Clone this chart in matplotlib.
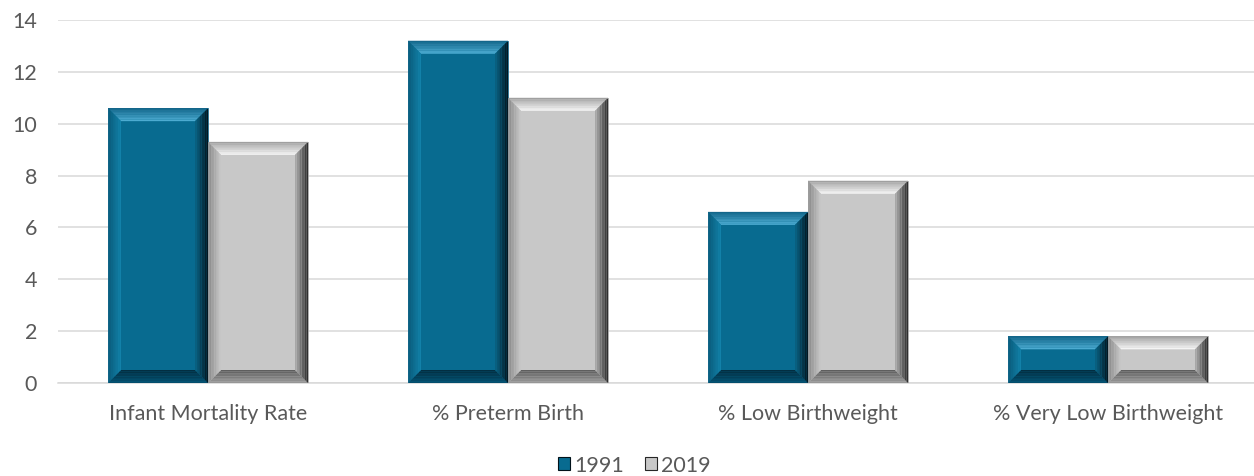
import numpy as np
import matplotlib as mpl
mpl.use('Agg')
import matplotlib.pyplot as plt
from matplotlib.patches import Polygon, Patch
from matplotlib.colors import to_rgb

# data
categories = ['Infant Mortality Rate', '% Preterm Birth', '% Low Birthweight', '% Very Low Birthweight']
series_names = ['1991', '2019']
values_1991 = [10.6, 13.2, 6.6, 1.8]
values_2019 = [9.3, 11.0, 7.8, 1.8]

# bevel palettes: face, (outer, inner) for top, left, right, bottom
styles = {
    '1991': dict(face='#086B90',
                 top=('#14668A', '#50B0D6'), left=('#095877', '#1384AC'),
                 right=('#01121A', '#0A6486'), bottom=('#045070', '#022C3E')),
    '2019': dict(face='#C8C8C8',
                 top=('#A0A0A0', '#FAFAFA'), left=('#858585', '#CACACA'),
                 right=('#262626', '#B0B0B0'), bottom=('#9A9A9A', '#5A5A5A')),
}

plt.rcParams['font.family'] = ['Lato', 'DejaVu Sans']
text_color = '#595959'

fig = plt.figure(figsize=(12.54, 4.76), dpi=100)
ax = fig.add_axes([58 / 1254, 1 - 383 / 476, 1200 / 1254, 363 / 476])

x = np.arange(len(categories))
w = 1 / 3
ax.set_xlim(-0.5, len(categories) - 0.5)
ax.set_ylim(0, 14)

# pixel -> data conversion for the bevel size
px_x = len(categories) / 1200
px_y = 14 / 363
bev = 13


def mix(c1, c2, t):
    a, b = np.array(to_rgb(c1)), np.array(to_rgb(c2))
    return tuple(a + (b - a) * t)


def bevel_bar(x0, h, width, st):
    x1 = x0 + width
    dx = bev * px_x
    dy = min(bev * px_y, h / 2.2)
    ax.add_patch(Polygon([(x0, 0), (x1, 0), (x1, h), (x0, h)], closed=True,
                         facecolor=st['face'], edgecolor='none', zorder=3))
    n = 8
    for k in range(n):
        t0, t1 = k / n, (k + 1) / n
        tc = (k + 0.5) / n
        # top
        ax.add_patch(Polygon([(x0 + t0 * dx, h - t0 * dy), (x1 - t0 * dx, h - t0 * dy),
                              (x1 - t1 * dx, h - t1 * dy), (x0 + t1 * dx, h - t1 * dy)],
                             facecolor=mix(*st['top'], tc), edgecolor='none', zorder=4))
        # bottom
        ax.add_patch(Polygon([(x0 + t0 * dx, t0 * dy), (x1 - t0 * dx, t0 * dy),
                              (x1 - t1 * dx, t1 * dy), (x0 + t1 * dx, t1 * dy)],
                             facecolor=mix(*st['bottom'], tc), edgecolor='none', zorder=4))
        # left
        ax.add_patch(Polygon([(x0 + t0 * dx, t0 * dy), (x0 + t0 * dx, h - t0 * dy),
                              (x0 + t1 * dx, h - t1 * dy), (x0 + t1 * dx, t1 * dy)],
                             facecolor=mix(*st['left'], tc), edgecolor='none', zorder=4))
        # right
        ax.add_patch(Polygon([(x1 - t0 * dx, t0 * dy), (x1 - t0 * dx, h - t0 * dy),
                              (x1 - t1 * dx, h - t1 * dy), (x1 - t1 * dx, t1 * dy)],
                             facecolor=mix(*st['right'], tc), edgecolor='none', zorder=4))
    ax.add_patch(Polygon([(x0, 0), (x1, 0), (x1, h), (x0, h)], closed=True,
                         facecolor='none', edgecolor=st['top'][0], linewidth=0.6, zorder=5))


for i in range(len(categories)):
    bevel_bar(x[i] - w, values_1991[i], w, styles['1991'])
    bevel_bar(x[i], values_2019[i], w, styles['2019'])

ax.set_yticks(np.arange(0, 15, 2))
ax.set_xticks(x)
ax.set_xticklabels(categories)
ax.yaxis.grid(True, color='#D9D9D9', linewidth=1.1)
ax.set_axisbelow(True)
for s in ['top', 'right', 'left']:
    ax.spines[s].set_visible(False)
ax.spines['bottom'].set_color('#D9D9D9')
ax.spines['bottom'].set_linewidth(1.1)
ax.tick_params(axis='both', length=0, labelsize=15.5, colors=text_color)
ax.tick_params(axis='y', pad=15)
ax.tick_params(axis='x', pad=15)

handles = [Patch(facecolor=styles[s]['face'], edgecolor=styles[s]['right'][0], linewidth=0.8)
           for s in series_names]
fig.legend(handles, series_names, loc='center', bbox_to_anchor=(0.506, 0.022), ncol=2,
           frameon=False, fontsize=15.5, labelcolor=text_color, handlelength=0.55,
           handleheight=0.55, handletextpad=0.2, columnspacing=1.0)

fig.savefig('out.png', dpi=100)
